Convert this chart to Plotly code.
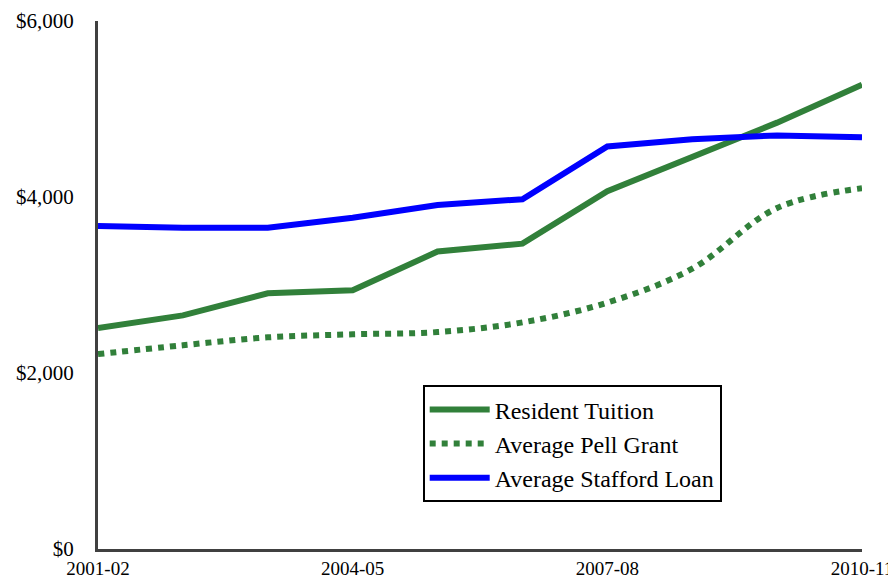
import plotly.graph_objects as go

# Datos
anios = ["2001-02", "2002-03", "2003-04", "2004-05", "2005-06",
         "2006-07", "2007-08", "2008-09", "2009-10", "2010-11"]
matricula = [2510, 2655, 2905, 2940, 3380, 3470, 4065, 4450, 4845, 5275]
pell = [2215, 2315, 2405, 2440, 2465, 2575, 2800, 3185, 3875, 4100]
stafford = [3670, 3650, 3650, 3765, 3910, 3975, 4575, 4655, 4700, 4680]

ticks_x = ["2001-02", "2004-05", "2007-08", "2010-11"]
ticks_y = [0, 2000, 4000, 6000]

verde = "#31803a"
azul = "#0000ff"
fuente = "Liberation Serif"

fig = go.Figure()
fig.add_trace(go.Scatter(x=anios, y=matricula, mode="lines", name="Resident Tuition",
                         line=dict(color=verde, width=6)))
fig.add_trace(go.Scatter(x=anios, y=pell, mode="lines", name="Average Pell Grant",
                         line=dict(color=verde, width=6, dash="dot", shape="spline")))
fig.add_trace(go.Scatter(x=anios, y=stafford, mode="lines", name="Average Stafford Loan",
                         line=dict(color=azul, width=6)))

# la pagina tiene 8px de margen en el body, por eso 888x578
fig.update_layout(
    width=888, height=578,
    margin=dict(l=90, r=34, t=13, b=37),
    plot_bgcolor="white", paper_bgcolor="white",
    font=dict(family=fuente, size=22, color="black"),
    showlegend=True,
    legend=dict(x=0.425, y=0.31, xanchor="left", yanchor="top",
                bordercolor="black", borderwidth=2, bgcolor="white",
                font=dict(family=fuente, size=24), tracegroupgap=2,
                itemwidth=60),
    xaxis=dict(type="category", range=[0, 9], tickmode="array", tickvals=ticks_x,
               showgrid=False, showline=True, linecolor="#404040", linewidth=3,
               ticks="", tickfont=dict(size=19), automargin=False,
               ticklabeloverflow="allow"),
    yaxis=dict(range=[0, 6000], tickmode="array", tickvals=ticks_y,
               tickformat="$,.0f", showgrid=False, showline=True,
               linecolor="#404040", linewidth=3, ticks="", zeroline=False,
               tickfont=dict(size=21), ticklabelstandoff=17, automargin=False,
               ticklabeloverflow="allow"),
)

fig.write_html("out.html")
